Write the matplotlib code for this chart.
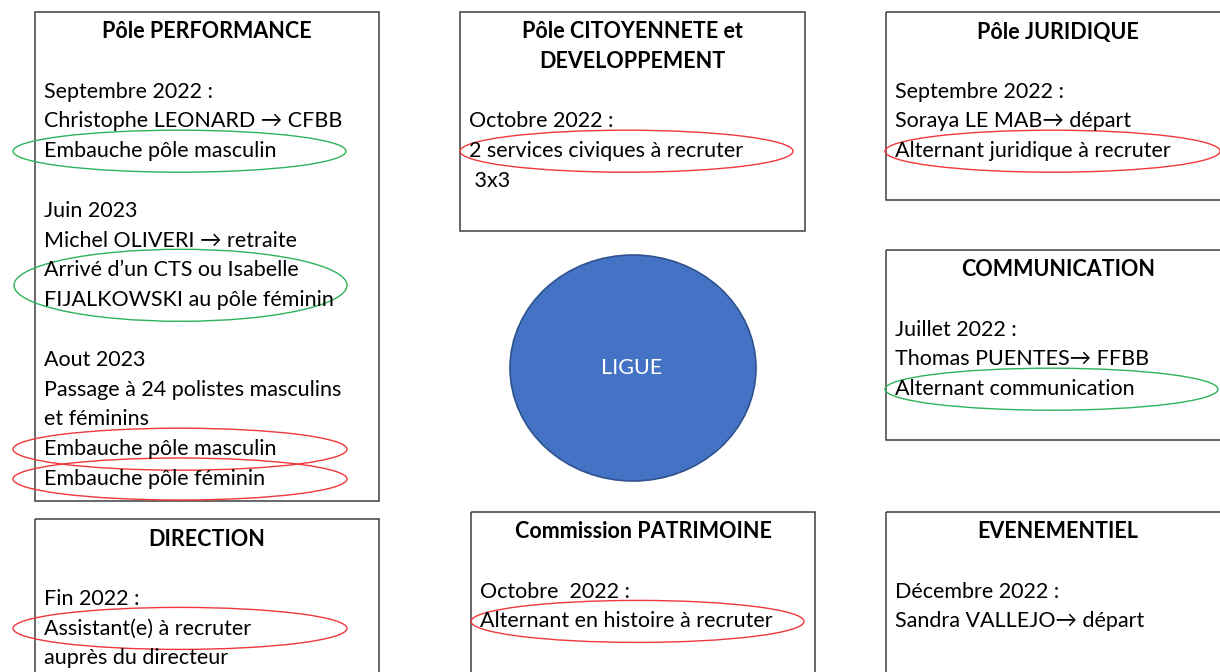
import matplotlib
matplotlib.use("Agg")
import matplotlib.pyplot as plt
from matplotlib.patches import Rectangle, Ellipse

plt.rcParams['font.family'] = ['Lato', 'DejaVu Sans']

# box contents
titles = [
    ["Pôle PERFORMANCE"],
    ["DIRECTION"],
    ["Pôle CITOYENNETE et", "DEVELOPPEMENT"],
    ["Commission PATRIMOINE"],
    ["Pôle JURIDIQUE"],
    ["COMMUNICATION"],
    ["EVENEMENTIEL"],
]
bodies = [
    ["Septembre 2022 :", "Christophe LEONARD \u2192 CFBB", "Embauche pôle masculin", "",
     "Juin 2023", "Michel OLIVERI \u2192 retraite", "Arrivé d\u2019un CTS ou Isabelle",
     "FIJALKOWSKI au pôle féminin", "", "Aout 2023", "Passage à 24 polistes masculins",
     "et féminins", "Embauche pôle masculin", "Embauche pôle féminin"],
    ["Fin 2022 :", "Assistant(e) à recruter", "auprès du directeur"],
    ["Octobre 2022 :", "2 services civiques à recruter", " 3x3"],
    ["Octobre  2022 :", "Alternant en histoire à recruter"],
    ["Septembre 2022 :", "Soraya LE MAB\u2192 départ", "Alternant juridique à recruter"],
    ["Juillet 2022 :", "Thomas PUENTES\u2192 FFBB", "Alternant communication"],
    ["Décembre 2022 :", "Sandra VALLEJO\u2192 départ"],
]
# highlighted items: (box, first body line, number of lines, status)
highlights = [
    (0, 2, 1, "ok"), (0, 6, 2, "ok"), (0, 12, 1, "todo"), (0, 13, 1, "todo"),
    (1, 1, 1, "todo"), (2, 1, 1, "todo"), (3, 1, 1, "todo"),
    (4, 2, 1, "todo"), (5, 2, 1, "ok"),
]
centre_label = "LIGUE"

# layout (pixels)
boxes = [(35, 12, 344, 489), (35, 519, 344, 200), (460, 12, 345, 219), (471, 512, 344, 200),
         (886, 12, 344, 188), (886, 250, 344, 190), (886, 512, 344, 200)]
hl_x = [(13, 333), (14, 333), (13, 334), (13, 334), (13, 334), (460, 333), (471, 333),
        (885, 335), (885, 333)]
status_col = {"ok": "#2DB35A", "todo": "#F0373A"}
LS = 29.8
FS = 15.5

fig = plt.figure(figsize=(12.2, 6.72), dpi=100, facecolor="white")
ax = fig.add_axes([0, 0, 1, 1])
ax.set_xlim(0, 1220); ax.set_ylim(672, 0); ax.axis("off")

def line_y(b, i):
    return boxes[b][1] + 20 + (len(titles[b]) + 1 + i) * LS

for b, (x, y, w, h) in enumerate(boxes):
    ax.add_patch(Rectangle((x, y), w, h, fill=False, edgecolor="#3F3F3F", linewidth=1.1))
    for j, t in enumerate(titles[b]):
        ax.text(x + w / 2, y + 20 + j * LS, t, ha="center", va="center", fontsize=FS,
                fontweight="bold", color="black")
    for i, t in enumerate(bodies[b]):
        ax.text(x + 9, line_y(b, i), t, ha="left", va="center", fontsize=FS, color="black")

for (b, i, n, st), (ex, ew) in zip(highlights, hl_x):
    cy = (line_y(b, i) + line_y(b, i + n - 1)) / 2
    eh = 42 if n == 1 else 72
    ax.add_patch(Ellipse((ex + ew / 2, cy), ew, eh, fill=False, edgecolor=status_col[st], linewidth=1))

ax.add_patch(Ellipse((633, 368), 246, 226, facecolor="#4472C4", edgecolor="#2F528F", linewidth=1.2))
ax.text(632, 368, centre_label, ha="center", va="center", fontsize=FS, color="white")

fig.savefig("out.png", dpi=100, facecolor="white")
